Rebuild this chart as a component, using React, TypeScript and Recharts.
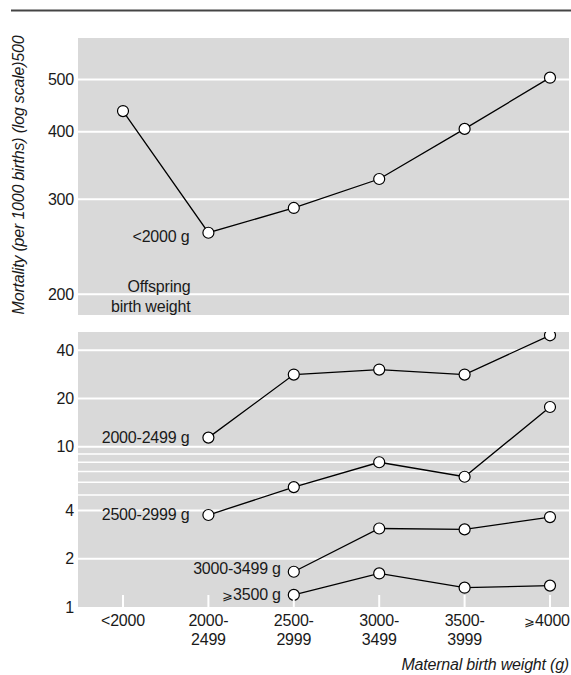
import React from 'react';
import { LineChart, Line, XAxis, YAxis, CartesianGrid, ReferenceLine } from 'recharts';

const categories = ['<2000', '2000-2499', '2500-2999', '3000-3499', '3500-3999', '⩾4000'];

// mortality per 1000 births, by offspring birth weight
const under2000 = [437, 260, 289, 327, 405, 504];
const from2000to2499 = [null, 11.4, 28.2, 30.3, 28.2, 49.6];
const from2500to2999 = [null, 3.75, 5.6, 8.0, 6.5, 17.7];
const from3000to3499 = [null, null, 1.66, 3.09, 3.05, 3.64];
const from3500 = [null, null, 1.19, 1.62, 1.32, 1.36];

const topTicks = [200, 300, 400, 500];
const bottomTicks = [1, 2, 4, 10, 20, 40];
const bottomMinorGrid = [5, 6, 7, 8, 9];

const topData = categories.map((name, i) => ({ name, lt2000: under2000[i] }));
const bottomData = categories.map((name, i) => ({
  name,
  g2000: from2000to2499[i],
  g2500: from2500to2999[i],
  g3000: from3000to3499[i],
  g3500: from3500[i],
}));

const FONT = "'Liberation Sans', Arial, sans-serif";
const TEXT = '#1a1a1a';
const PANEL = '#d9d9d9';
const W = 571;
const FS = 16;

// the slanted ⩾ comes from a wide fallback font, so draw it a bit smaller
const withGe = (s: string) =>
  s.startsWith('⩾') ? (
    <>
      <tspan fontSize={13}>⩾</tspan>
      {s.slice(1)}
    </>
  ) : (
    s
  );

// dot with an optional text label next to one of the points
const makeDot = (label: string, at: number, dx: number, dy: number, extra: string[] = []) => (props: any) => {
  const { cx, cy, index } = props;
  if (cx == null || cy == null || isNaN(cy)) return <g key={index} />;
  return (
    <g key={index}>
      <circle cx={cx} cy={cy} r={5.5} fill="#fff" stroke="#000" strokeWidth={1.2} />
      {index === at && (
        <text x={cx + dx} y={cy + dy} textAnchor="end" fontSize={FS} fill={TEXT}>
          {withGe(label)}
        </text>
      )}
      {index === at &&
        extra.map((t, k) => (
          <text key={t} x={cx + dx + 1} y={cy + 59 + k * 20} textAnchor="end" fontSize={FS} fill={TEXT}>
            {t}
          </text>
        ))}
    </g>
  );
};

const XTick = ({ x, y, payload }: any) => {
  const v = String(payload.value);
  const lines = v.includes('-') ? [v.split('-')[0] + '-', v.split('-')[1]] : [v];
  const tx = payload.index === categories.length - 1 ? x - 3 : x;
  return (
    <g>
      <line x1={x} x2={x} y1={y - 12} y2={y} stroke="#fff" strokeWidth={2} />
      <text x={tx} y={y + 19} textAnchor="middle" fontSize={FS} fill={TEXT}>
        {lines.map((l, i) => (
          <tspan key={i} x={tx} dy={i === 0 ? 0 : 19}>
            {withGe(l)}
          </tspan>
        ))}
      </text>
    </g>
  );
};

export default function App() {
  return (
    <div
      style={{
        position: 'absolute',
        left: 0,
        top: 0,
        width: W,
        height: 675,
        fontFamily: FONT,
        letterSpacing: '-0.2px',
        background: '#fff',
      }}
    >
      <svg width={W} height={675} style={{ position: 'absolute', left: 0, top: 0 }}>
        <line x1={11} x2={W} y1={10.5} y2={10.5} stroke="#444" strokeWidth={2} />
        <text
          x={24}
          y={175}
          transform="rotate(-90 24 175)"
          textAnchor="middle"
          fontSize={FS}
          fontStyle="italic"
          fill={TEXT}
        >
          Mortality (per 1000 births) (log scale)500
        </text>
        <text x={569} y={670} textAnchor="end" fontSize={FS} fontStyle="italic" fill={TEXT}>
          Maternal birth weight (g)
        </text>
      </svg>

      <div style={{ position: 'absolute', left: 0, top: 0 }}>
        <LineChart width={W} height={320} data={topData} margin={{ top: 38, right: 2, bottom: 5, left: 0 }}>
          <CartesianGrid fill={PANEL} stroke="none" horizontal={false} vertical={false} />
          {topTicks.map((t) => (
            <ReferenceLine key={t} y={t} stroke="#fff" strokeWidth={2} />
          ))}
          <XAxis dataKey="name" hide padding={{ left: 45, right: 19 }} />
          <YAxis
            scale="log"
            domain={[183, 597]}
            allowDataOverflow
            ticks={topTicks}
            width={78}
            axisLine={false}
            tickLine={false}
            tickSize={0}
            tickMargin={4}
            tick={{ fontSize: FS, fill: TEXT }}
          />
          <Line
            dataKey="lt2000"
            stroke="#000"
            strokeWidth={1.3}
            isAnimationActive={false}
            dot={makeDot('<2000 g', 1, -19, 9, ['Offspring', 'birth weight'])}
          />
        </LineChart>
      </div>

      <div style={{ position: 'absolute', left: 0, top: 320 }}>
        <LineChart width={W} height={355} data={bottomData} margin={{ top: 12, right: 2, bottom: 0, left: 0 }}>
          <CartesianGrid fill={PANEL} stroke="none" horizontal={false} vertical={false} />
          {bottomMinorGrid.map((t) => (
            <ReferenceLine key={t} y={t} stroke="#fff" strokeWidth={1.5} />
          ))}
          {bottomTicks
            .filter((t) => t > 1)
            .map((t) => (
              <ReferenceLine key={t} y={t} stroke="#fff" strokeWidth={2} />
            ))}
          <XAxis
            dataKey="name"
            height={68}
            padding={{ left: 45, right: 19 }}
            axisLine={false}
            tickLine={false}
            tickSize={0}
            tickMargin={0}
            interval={0}
            tick={<XTick />}
          />
          <YAxis
            scale="log"
            domain={[1, 52]}
            allowDataOverflow
            ticks={bottomTicks}
            width={78}
            axisLine={false}
            tickLine={false}
            tickSize={0}
            tickMargin={4}
            tick={{ fontSize: FS, fill: TEXT }}
          />
          <Line dataKey="g2000" stroke="#000" strokeWidth={1.3} isAnimationActive={false}
            dot={makeDot('2000-2499 g', 1, -19, 5)} />
          <Line dataKey="g2500" stroke="#000" strokeWidth={1.3} isAnimationActive={false}
            dot={makeDot('2500-2999 g', 1, -19, 5)} />
          <Line dataKey="g3000" stroke="#000" strokeWidth={1.3} isAnimationActive={false}
            dot={makeDot('3000-3499 g', 2, -13, 2)} />
          <Line dataKey="g3500" stroke="#000" strokeWidth={1.3} isAnimationActive={false}
            dot={makeDot('⩾3500 g', 2, -13, 5)} />
        </LineChart>
      </div>
    </div>
  );
}
